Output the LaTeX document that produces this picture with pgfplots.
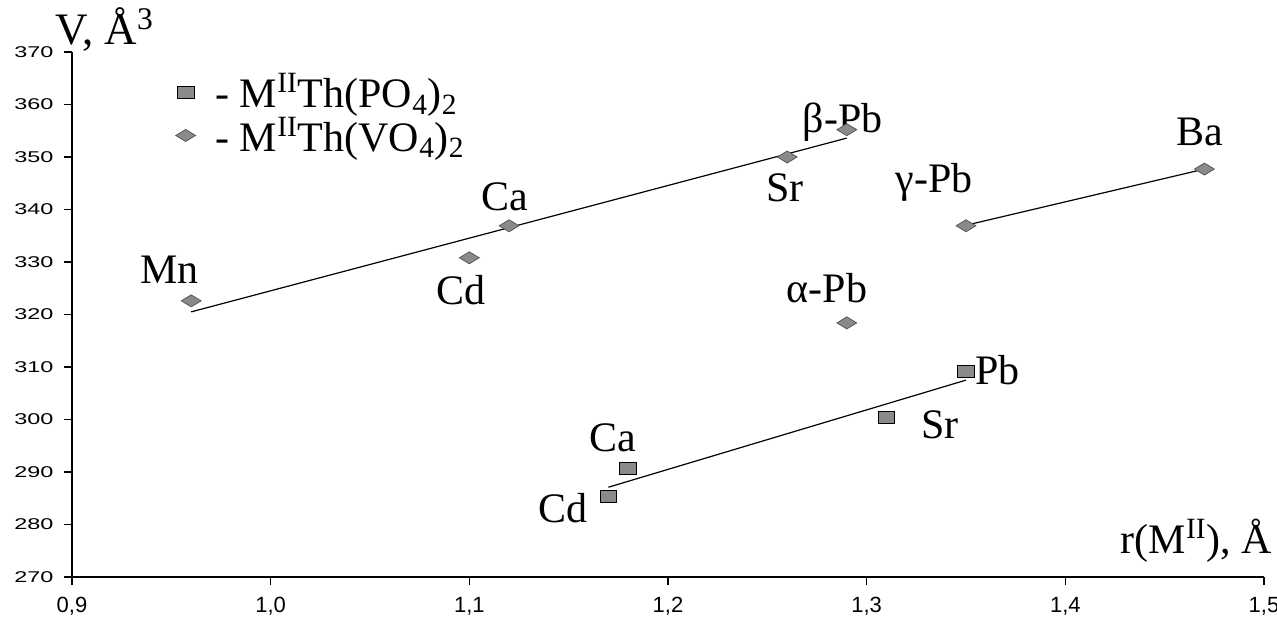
\documentclass[border=0pt]{standalone}
\usepackage{fontspec}
\setmainfont{Liberation Serif}
\setsansfont{Liberation Sans}
\usepackage{pgfplots}
\pgfplotsset{compat=1.18}
\definecolor{mk}{HTML}{8A8A8A}
\begin{document}
\begin{tikzpicture}
\begin{axis}[
  scale only axis, width=596pt, height=262.5pt,
  xmin=0.9, xmax=1.5, ymin=270, ymax=370,
  xtick={0.9,1.0,...,1.5}, ytick={270,280,...,370},
  axis x line*=bottom, axis y line*=left,
  axis line style={black, line width=0.8pt},
  tick align=outside, major tick length=4pt,
  tick style={black, line width=0.6pt},
  clip=false,
  /pgf/number format/assume math mode=true,
  xticklabel style={/pgf/number format/use comma, /pgf/number format/fixed, /pgf/number format/fixed zerofill, /pgf/number format/precision=1, yshift=-3pt, font=\sffamily\fontsize{11}{12}\selectfont, text height=1.6ex, text depth=0.3ex},
  yticklabel style={/pgf/number format/fixed, /pgf/number format/precision=0, font=\sffamily\fontsize{7.8}{9}\selectfont, xscale=1.5},
  legend style={at={(axis cs:0.949,367.5)}, anchor=north west, draw=none, fill=none,
    font=\fontsize{21}{23}\selectfont, row sep=-1pt},
  legend cell align=left,
]
\addplot[only marks, mark=square*, mark size=3pt, mark options={xscale=1.4, fill=mk, draw=black, line width=0.5pt}]
  coordinates {(1.17,285.4) (1.18,290.6) (1.31,300.3) (1.35,309.2)};
\addlegendentry{\hspace{8pt}- M\textsuperscript{II}Th(PO\textsubscript{4})\textsubscript{2}}
\addplot[only marks, mark=diamond*, mark size=3pt, mark options={xscale=2.2, fill=mk, draw=black!65, line width=0.4pt}]
  coordinates {(0.96,322.6) (1.10,330.8) (1.12,336.9) (1.26,350.0) (1.29,355.2) (1.29,318.4) (1.35,336.9) (1.47,347.7)};
\addlegendentry{\hspace{8pt}- M\textsuperscript{II}Th(VO\textsubscript{4})\textsubscript{2}}
\addplot[forget plot, black, line width=0.6pt] coordinates {(0.96,320.5) (1.29,353.6)};
\addplot[forget plot, black, line width=0.6pt] coordinates {(1.35,337.0) (1.47,347.7)};
\addplot[forget plot, black, line width=0.6pt] coordinates {(1.17,287.1) (1.35,307.5)};
\begin{scope}[every node/.style={font=\fontsize{21}{22}\selectfont, inner sep=0pt}]
\node at (axis cs:0.949,328.5) {Mn};
\node at (axis cs:1.096,324.7) {Cd};
\node at (axis cs:1.118,342.4) {Ca};
\node at (axis cs:1.259,344.1) {Sr};
\node at (axis cs:1.288,356.7) {β-Pb};
\node at (axis cs:1.280,325.0) {α-Pb};
\node at (axis cs:1.334,345.2) {γ-Pb};
\node at (axis cs:1.4675,354.8) {Ba};
\node at (axis cs:1.172,296.5) {Ca};
\node at (axis cs:1.147,283.1) {Cd};
\node at (axis cs:1.337,299.0) {Sr};
\node at (axis cs:1.366,309.4) {Pb};
\node at (axis cs:1.4660,276.9) {r(M\textsuperscript{II}), Å};
\node[anchor=west, font=\fontsize{22.5}{23}\selectfont] at (axis cs:0.8915,374.2) {V, Å\textsuperscript{3}};
\end{scope}
\end{axis}
\pgfresetboundingbox
\path (-36pt,-21.5pt) rectangle (602.5pt,288.5pt);
\end{tikzpicture}
\end{document}
